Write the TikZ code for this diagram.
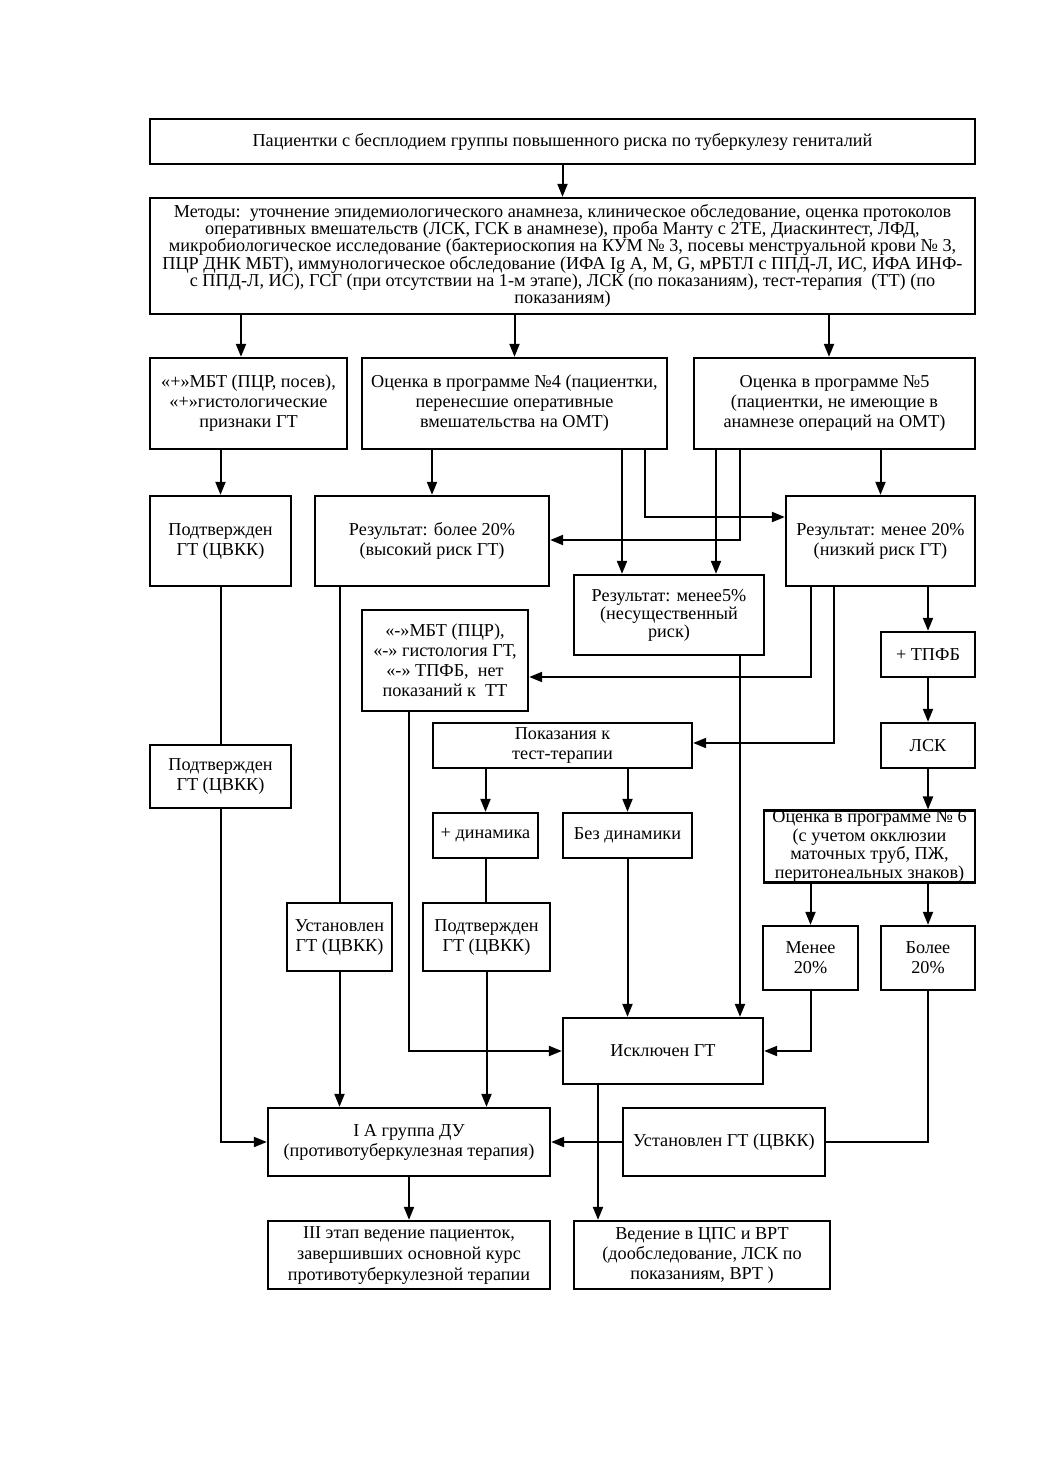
\documentclass[tikz,border=0pt]{standalone}
\usepackage{fontspec}
\setmainfont{Liberation Serif}
\usetikzlibrary{arrows.meta}
\tikzset{
  box/.style={draw, line width=2.3pt, align=center, inner sep=0pt,
    font=\fontsize{18.2}{20}\selectfont},
  arr/.style={line width=2pt, -{Triangle[length=13pt,width=10pt]}},
  ln/.style={line width=2pt},
}
\newcommand{\bx}[6]{\node[box, minimum width={(#4-#2)*1pt}, minimum height={(#5-#3)*1pt}] (#1) at ({(#2+#4)/2},{(#3+#5)/2}) {#6};}
\begin{document}
\begin{tikzpicture}[x=1pt,y=-1pt]
\useasboundingbox (0,0) rectangle (1040,1471);
\fill[white] (0,0) rectangle (1040,1471);
% boxes
\bx{top}{150}{119}{975}{164}{Пациентки с бесплодием группы повышенного риска по туберкулезу гениталий}
\node[box, minimum width=825pt, minimum height=116pt, font=\fontsize{18.2}{17.3}\selectfont] (methods) at (562.5,256) {Методы:\ \ уточнение эпидемиологического анамнеза, клиническое обследование, оценка протоколов\\оперативных вмешательств (ЛСК, ГСК в анамнезе), проба Манту с 2ТЕ, Диаскинтест, ЛФД,\\микробиологическое исследование (бактериоскопия на КУМ № 3, посевы менструальной крови № 3,\\ПЦР ДНК МБТ), иммунологическое обследование (ИФА Ig A, M, G, мРБТЛ с ППД-Л, ИС, ИФА ИНФ-\\с ППД-Л, ИС), ГСГ (при отсутствии на 1-м этапе), ЛСК (по показаниям), тест-терапия\ \ (ТТ) (по\\показаниям)};
\bx{A}{150}{358}{347}{449}{«+»МБТ (ПЦР, посев),\\«+»гистологические\\признаки ГТ}
\bx{B}{362}{358}{667}{449}{Оценка в программе №4 (пациентки,\\перенесшие оперативные\\вмешательства на ОМТ)}
\bx{C}{694}{358}{975}{449}{Оценка в программе №5\\(пациентки, не имеющие в\\анамнезе операций на ОМТ)}
\bx{D}{150}{496}{291}{586}{Подтвержден\\ГТ (ЦВКК)}
\bx{E}{315}{496}{549}{586}{Результат: более 20\%\\(высокий риск ГТ)}
\bx{F}{786}{496}{975}{586}{Результат: менее 20\%\\(низкий риск ГТ)}
\node[box, minimum width=190pt, minimum height=80pt, font=\fontsize{18.2}{18}\selectfont] (G) at (669,615) {Результат: менее5\%\\(несущественный\\риск)};
\bx{H}{362}{610}{528}{711}{«-»МБТ (ПЦР),\\«-» гистология ГТ,\\«-» ТПФБ,\ \ нет\\показаний к\ \ ТТ}
\bx{TPFB}{881}{632}{975}{677}{+ ТПФБ}
\bx{LSK}{881}{723}{975}{768}{ЛСК}
\bx{I}{433}{723}{692}{768}{Показания к\\тест-терапии}
\bx{D2}{150}{745}{291}{808}{Подтвержден\\ГТ (ЦВКК)}
\node[box, minimum width=211pt, minimum height=67pt, font=\fontsize{18.2}{18.6}\selectfont] (P6) at (869.5,846.5) {Оценка в программе № 6\\(с учетом окклюзии\\маточных труб, ПЖ,\\перитонеальных знаков)};
\bx{J}{433}{813}{538}{858}{+ динамика}
\bx{K}{563}{813}{692}{858}{Без динамики}
\bx{L}{287}{903}{392}{971}{Установлен\\ГТ (ЦВКК)}
\bx{M}{423}{903}{550}{971}{Подтвержден\\ГТ (ЦВКК)}
\bx{N}{763}{926}{858}{990}{Менее\\20\%}
\bx{O}{881}{926}{975}{990}{Более\\20\%}
\bx{P}{563}{1018}{763}{1084}{Исключен ГТ}
\bx{Q}{268}{1108}{550}{1176}{I А группа ДУ\\(противотуберкулезная терапия)}
\bx{R}{623}{1108}{825}{1176}{Установлен ГТ (ЦВКК)}
\node[box, minimum width=282pt, minimum height=68pt, font=\fontsize{18.2}{21}\selectfont] (S) at (409,1255) {III этап ведение пациенток,\\завершивших основной курс\\противотуберкулезной терапии};
\bx{T}{574}{1221}{830}{1289}{Ведение в ЦПС и ВРТ\\(дообследование, ЛСК по\\показаниям, ВРТ )}
% column / bend coordinates
\coordinate (x241) at (241,0);
\coordinate (x829) at (829,0);
\coordinate (x622) at (622,0);
\coordinate (x716) at (716,0);
\coordinate (x409) at (409,0);
\coordinate (x598) at (598,0);
\coordinate (b645) at (645,517);
\coordinate (b740) at (740,540);
\coordinate (b811) at (811,677);
\coordinate (b834) at (834,743);
% connectors
\draw[arr] (top.south) -- (methods.north);
\draw[arr] (methods.south -| x241) -- (A.north -| x241);
\draw[arr] (methods.south -| B) -- (B.north);
\draw[arr] (methods.south -| x829) -- (C.north -| x829);
\draw[arr] (A.south -| D) -- (D.north);
\draw[arr] (B.south -| E) -- (E.north);
\draw[arr] (C.south -| F) -- (F.north);
\draw[arr] (B.south -| x622) -- (G.north -| x622);
\draw[arr] (B.south -| b645) -- (b645) -- (F.west |- b645);
\draw[arr] (C.south -| x716) -- (G.north -| x716);
\draw[arr] (C.south -| b740) -- (b740) -- (E.east |- b740);
\draw[ln] (D.south) -- (D2.north);
\draw[arr] (D2.south) |- (Q.west);
\draw[ln] (E.south -| L) -- (L.north);
\draw[arr] (L.south) -- (Q.north -| L);
\draw[arr] (F.south -| b811) -- (b811) -- (H.east |- b811);
\draw[arr] (F.south -| b834) -- (b834) -- (I.east |- b834);
\draw[arr] (F.south -| TPFB) -- (TPFB.north);
\draw[arr] (TPFB.south) -- (LSK.north);
\draw[arr] (LSK.south) -- (P6.north -| LSK);
\draw[arr] (G.south -| b740) -- (P.north -| b740);
\draw[arr] (H.south -| x409) |- (P.west);
\draw[arr] (I.south -| J) -- (J.north);
\draw[arr] (I.south -| K) -- (K.north);
\draw[ln] (J.south) -- (M.north -| J);
\draw[arr] (M.south) -- (Q.north -| M);
\draw[arr] (K.south) -- (P.north -| K);
\draw[arr] (P6.south -| N) -- (N.north);
\draw[arr] (P6.south -| O) -- (O.north);
\draw[arr] (N.south) |- (P.east);
\draw[ln] (O.south) |- (R.east);
\draw[arr] (R.west) -- (Q.east);
\draw[arr] (P.south -| x598) -- (T.north -| x598);
\draw[arr] (Q.south) -- (S.north);
\end{tikzpicture}
\end{document}
